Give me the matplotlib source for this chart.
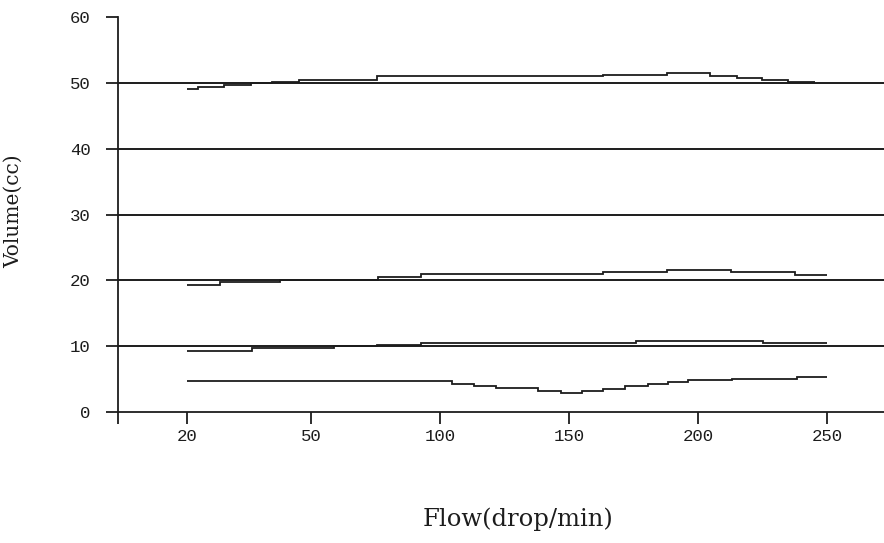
import numpy as np
import matplotlib
matplotlib.use('Agg')
import matplotlib.pyplot as plt

# flow axis labels (drawn evenly spaced, like the original)
flow_ticks = [20, 50, 100, 150, 200, 250]
tick_pos = [0.04, 1, 2, 3, 4, 5]
vol_ticks = [0, 10, 20, 30, 40, 50, 60]
set_volumes = [10, 20, 30, 40, 50]

# measured volume, step edges (flow) and levels (cc)
edges_50 = [20, 22.6, 28.9, 35.6, 40.7, 47.0, 75.6, 163.2, 187.9, 204.6, 214.9, 224.8, 234.9, 245.3]
vol_50 = [49.1, 49.45, 49.75, 50.0, 50.15, 50.4, 51.0, 51.25, 51.5, 51.1, 50.8, 50.5, 50.2]

edges_20 = [20, 27.9, 42.6, 59.1, 76.0, 92.5, 163.3, 188.1, 212.6, 237.5, 250]
vol_20 = [19.35, 19.7, 20.0, 20.1, 20.55, 20.9, 21.3, 21.55, 21.2, 20.8]

edges_10 = [20, 35.8, 59.1, 75.5, 92.5, 176.0, 225.2, 250]
vol_10 = [9.3, 9.7, 10.0, 10.15, 10.55, 10.85, 10.45]

edges_5 = [20, 104.5, 113.0, 121.7, 138.1, 147.0, 155.2, 163.3, 171.7, 180.4, 188.4, 196.2, 213.0, 238.2, 250]
vol_5 = [4.7, 4.25, 3.95, 3.7, 3.25, 2.9, 3.2, 3.55, 3.9, 4.2, 4.5, 4.8, 5.0, 5.3]


def fwd(x):
    x = np.asarray(x, float)
    y = np.interp(x, flow_ticks, tick_pos)
    lo = tick_pos[0] + (x - flow_ticks[0]) * (tick_pos[1] - tick_pos[0]) / (flow_ticks[1] - flow_ticks[0])
    hi = tick_pos[-1] + (x - flow_ticks[-1]) / (flow_ticks[-1] - flow_ticks[-2])
    return np.where(x < flow_ticks[0], lo, np.where(x > flow_ticks[-1], hi, y))


def inv(p):
    p = np.asarray(p, float)
    x = np.interp(p, tick_pos, flow_ticks)
    lo = flow_ticks[0] + (p - tick_pos[0]) * (flow_ticks[1] - flow_ticks[0]) / (tick_pos[1] - tick_pos[0])
    hi = flow_ticks[-1] + (p - tick_pos[-1]) * (flow_ticks[-1] - flow_ticks[-2])
    return np.where(p < tick_pos[0], lo, np.where(p > tick_pos[-1], hi, x))


ink = '#1c1c1c'
fig = plt.figure(figsize=(8.84, 5.43), dpi=100)
ax = fig.add_axes([0.1335, 0.2413, 0.8665, 0.727])
ax.set_xscale('function', functions=(fwd, inv))

for v in set_volumes:
    ax.axhline(v, color=ink, lw=1.4)

for e, v in [(edges_50, vol_50), (edges_20, vol_20), (edges_10, vol_10), (edges_5, vol_5)]:
    ax.stairs(v, e, baseline=None, color=ink, lw=1.3)

xmin, xmax = 3.3, 272
ax.set_xlim(xmin, xmax)
ax.set_ylim(0, 60)

ax.set_xticks([xmin] + flow_ticks)
ax.set_xticklabels([''] + [str(t) for t in flow_ticks])
ax.set_yticks(vol_ticks)

for s in ['top', 'right']:
    ax.spines[s].set_visible(False)
for s in ['left', 'bottom']:
    ax.spines[s].set_color(ink)
    ax.spines[s].set_linewidth(1.3)

ax.tick_params(axis='both', direction='out', length=8.6, width=1.3, color=ink,
               labelsize=12.5, labelcolor=ink)
ax.tick_params(axis='y', pad=11)
ax.tick_params(axis='x', pad=3.5)
for lab in ax.get_xticklabels() + ax.get_yticklabels():
    lab.set_family('Liberation Mono')

ax.set_xlabel('Flow(drop/min)', family='DejaVu Serif', fontsize=17.5, color=ink)
ax.set_ylabel('Volume(cc)', family='DejaVu Serif', fontsize=14.5, color=ink)
ax.xaxis.set_label_coords(0.522, -0.243)
ax.yaxis.set_label_coords(-0.124, 0.509)

fig.savefig('out.png', dpi=100)
